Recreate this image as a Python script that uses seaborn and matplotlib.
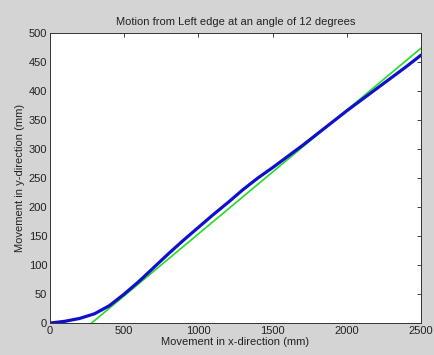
import numpy as np
import pandas as pd
import matplotlib
matplotlib.use("Agg")
import matplotlib.pyplot as plt
import seaborn as sns

# measured path (blue) and ideal 12 degree line (green)
x_measured = [0, 100, 200, 300, 400, 500, 600, 700, 800, 900, 1000, 1100, 1200,
              1300, 1400, 1500, 1600, 1700, 1800, 1900, 2000, 2100, 2200, 2300,
              2400, 2500]
y_measured = [0, 3, 8, 16, 30, 50, 72, 96, 120, 143, 165, 187, 208, 230, 250,
              268, 287, 306, 326, 346, 366, 385, 404, 423, 442, 462]
x_ideal = [280, 2500]
y_ideal = [0, 474]

x_ticks = [0, 500, 1000, 1500, 2000, 2500]
y_ticks = [0, 50, 100, 150, 200, 250, 300, 350, 400, 450, 500]

sns.set_style("white")
plt.rcParams["font.family"] = ["Liberation Sans", "DejaVu Sans"]
plt.rcParams["xtick.direction"] = "in"
plt.rcParams["ytick.direction"] = "in"

fig = plt.figure(figsize=(4.35, 3.55), dpi=100)
fig.patch.set_facecolor("#d4d4d4")
ax = fig.add_axes([0.115, 0.090, 0.853, 0.817])
ax.set_facecolor("white")

measured = pd.DataFrame({"x": x_measured, "y": y_measured})
ideal = pd.DataFrame({"x": x_ideal, "y": y_ideal})
sns.lineplot(data=ideal, x="x", y="y", color="#22dd22", linewidth=1.2, ax=ax)
sns.lineplot(data=measured, x="x", y="y", color="#1010cc", linewidth=2.3, ax=ax)

ax.set_xlim(0, 2500)
ax.set_ylim(0, 500)
ax.set_xticks(x_ticks)
ax.set_yticks(y_ticks)
ax.tick_params(labelsize=8, length=3, width=0.6, colors="#222222",
               top=True, right=True, pad=2)
for s in ax.spines.values():
    s.set_linewidth(0.7)
    s.set_color("#333333")

ax.set_title("Motion from Left edge at an angle of 12 degrees", fontsize=8,
             color="#222222", pad=6)
ax.set_xlabel("Movement in x-direction (mm)", fontsize=8, color="#222222", labelpad=1)
ax.set_ylabel("Movement in y-direction (mm)", fontsize=8, color="#222222", labelpad=3)

fig.savefig("out.png", dpi=100, facecolor=fig.get_facecolor())
